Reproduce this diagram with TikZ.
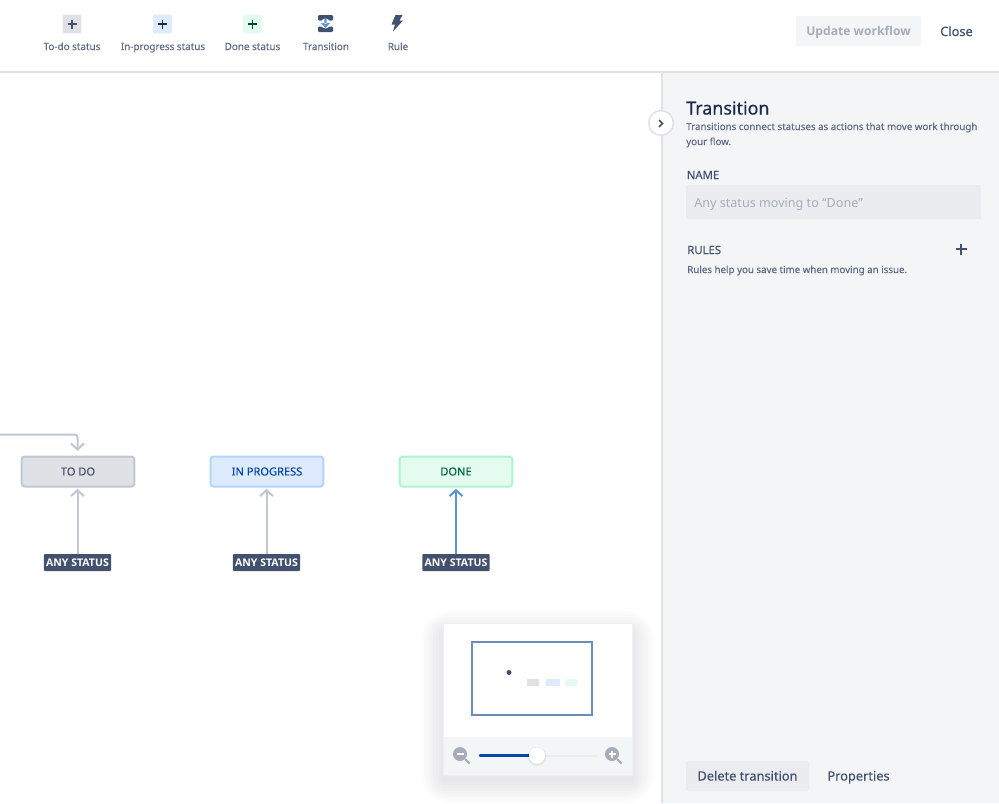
\documentclass[tikz,border=0pt]{standalone}
\usepackage{fontspec}
\setmainfont{Noto Sans}
\newfontfamily\heavyfont{Open Sans}
\usetikzlibrary{arrows.meta,positioning,calc}

\definecolor{inkdark}{HTML}{172B4D}
\definecolor{inkmid}{HTML}{42526E}
\definecolor{inkgrey}{HTML}{5E6C84}
\definecolor{inkfaint}{HTML}{A5ADBA}
\definecolor{edgegrey}{HTML}{C1C7D0}
\definecolor{linegrey}{HTML}{DFE1E6}
\definecolor{panelgrey}{HTML}{F4F5F7}
\definecolor{inputgrey}{HTML}{EBECF0}
\definecolor{todofill}{HTML}{DFE1E6}
\definecolor{progfill}{HTML}{DEEBFF}
\definecolor{progedge}{HTML}{B3D4FF}
\definecolor{donefill}{HTML}{E3FCEF}
\definecolor{doneedge}{HTML}{ABF5D1}
\definecolor{donetext}{HTML}{006644}
\definecolor{progtext}{HTML}{0747A6}
\definecolor{selblue}{HTML}{5B93D9}
\definecolor{mapblue}{HTML}{6C8EB5}
\definecolor{sliderblue}{HTML}{0747A6}

\tikzset{
  statusbox/.style={draw, line width=1.5pt, rounded corners=2.2pt, minimum width=84.5pt, minimum height=22.5pt, inner sep=0,
    font=\fontsize{8.3}{10}\selectfont\addfontfeature{FakeBold=0.3}},
  anylabel/.style={fill=inkmid, rounded corners=0.8pt, text=white, minimum width=50.5pt, minimum height=12.75pt, inner sep=0,
    font=\heavyfont\bfseries\fontsize{7.9}{10}\selectfont},
  flow/.style={draw=edgegrey, line width=1.5pt, -{Straight Barb[length=4.5pt,width=9.75pt,line width=1.5pt]}},
  toollabel/.style={anchor=base, text=inkgrey, font=\fontsize{7.4}{10}\selectfont\addfontfeature{FakeBold=0.15}},
  toolsquare/.style={minimum size=14pt, inner sep=0, rounded corners=0.8pt},
  panelsmall/.style={anchor=base west, inner sep=0, text=inkgrey, font=\fontsize{7.3}{10}\selectfont\addfontfeature{FakeBold=0.15}},
  panelhead/.style={anchor=base west, inner sep=0, text=inkmid, font=\fontsize{8.5}{10}\selectfont\addfontfeature{FakeBold=0.2}},
  button/.style={anchor=base, font=\fontsize{9.6}{12}\selectfont\addfontfeature{FakeBold=0.3}}
}

\begin{document}
\begin{tikzpicture}[x=0.75pt,y=-0.75pt]
\useasboundingbox (0,0) rectangle (999,803);
\fill[white] (0,0) rectangle (999,803);

% Side panel and header rule
\fill[panelgrey] (662,72) rectangle (999,803);
\draw[linegrey, line width=1.5pt] (662,72) -- (662,803);
\draw[linegrey, line width=1.5pt] (0,71.5) -- (999,71.5);

% Toolbar
\node[toolsquare, fill=todofill] (addtodo) at (72,24) {};
\node[toolsquare, fill=progfill] (addprog) at (162.5,24) {};
\node[toolsquare, fill=donefill] (adddone) at (252.5,24) {};
\draw[inkmid, line width=1.4pt] (67.5,24) -- (76.5,24) (72,19.5) -- (72,28.5);
\draw[inkdark, line width=1.4pt] (158,24) -- (167,24) (162.5,19.5) -- (162.5,28.5);
\draw[donetext!70!black, line width=1.4pt] (248,24) -- (257,24) (252.5,19.5) -- (252.5,28.5);
% Transition icon
\fill[inkmid, rounded corners=0.8pt] (318,15) rectangle (333,20.5);
\fill[inkmid, rounded corners=0.8pt] (318,26.5) rectangle (333,32);
\fill[white] (325.5,23.5) circle (5);
\fill[selblue] (324.3,18) rectangle (326.7,24) (321,23) -- (330,23) -- (325.5,28) -- cycle;
% Rule icon
\fill[inkmid] (395.5,15) -- (402.5,15) -- (399.5,20.5) -- (403,20.5) -- (393,31.5) -- (395,24.5) -- (391.5,24.5) -- cycle;

\node[toollabel] (todolabel) at (72,50) {To-do status};
\node[toollabel] (proglabel) at (163,50) {In-progress status};
\node[toollabel] (donelabel) at (252.5,50) {Done status};
\node[toollabel] (translabel) at (326,50) {Transition};
\node[toollabel] (rulelabel) at (398,50) {Rule};

% Header buttons
\fill[panelgrey, rounded corners=1.5pt] (796,16) rectangle (921,46);
\node[button, text=inkfaint, font=\heavyfont\bfseries\fontsize{9.1}{12}\selectfont] (update) at (858.5,36) {Update workflow};
\node[button, text=inkmid] (close) at (956.5,36) {Close};

% Statuses
\node[statusbox, draw=edgegrey, fill=todofill, text=inkmid] (todo) at (78,471.5) {TO DO};
\node[statusbox, draw=progedge, fill=progfill, text=progtext] (inprogress) at (267,471.5) {IN PROGRESS};
\node[statusbox, draw=doneedge, fill=donefill, text=donetext] (done) at (456,471.5) {DONE};

% Any status labels
\node[anylabel] (anytodo) at (77.5,562.5) {ANY STATUS};
\node[anylabel] (anyprog) at (266.5,562.5) {ANY STATUS};
\node[anylabel] (anydone) at (456,562.5) {ANY STATUS};

% Transitions
\draw[flow] (anytodo.north) -- ([yshift=-1pt]anytodo.north |- todo.south);
\draw[flow] (anyprog.north) -- ([yshift=-1pt]anyprog.north |- inprogress.south);
\draw[flow, draw=selblue] (anydone.north) -- ([yshift=-1pt]anydone.north |- done.south);
\coordinate (offleft) at (0,434.5);
\draw[flow, rounded corners=2.2pt] (offleft) -- (anytodo.north |- offleft) -- ([yshift=3.5pt]anytodo.north |- todo.north);

% Collapse button
\node[circle, draw=linegrey, fill=white, line width=1.1pt, minimum size=18.5pt, inner sep=0] (collapse) at (661,123) {};
\draw[inkmid, line width=1.1pt] (659,120) -- (662.5,123.5) -- (659,127);

% Panel text
\node[anchor=base west, text=inkdark, font=\fontsize{13.4}{18}\selectfont\addfontfeature{FakeBold=0.3}, inner sep=0] (title) at (686,114.5) {Transition};
\node[panelsmall] (help1) at (686,130) {Transitions connect statuses as actions that move work through};
\node[panelsmall] (help2) at (686,145) {your flow.};
\node[panelhead] (namehead) at (686.5,179) {NAME};
\fill[inputgrey] (686,185) rectangle (981,219);
\node[anchor=base west, inner sep=0, text=inkfaint, font=\fontsize{9.45}{12}\selectfont] (nameinput) at (694,207) {Any status moving to “Done”};
\node[panelhead] (ruleshead) at (687,254) {RULES};
\draw[inkmid, line width=0.9pt] (955.5,249) -- (966.5,249) (961,243.5) -- (961,254.5);
\node[panelsmall] (ruleshelp) at (687,273) {Rules help you save time when moving an issue.};

% Panel buttons
\fill[inputgrey, rounded corners=1.5pt] (686,761) rectangle (809,791);
\node[button, text=inkmid] (delete) at (747.5,780.5) {Delete transition};
\node[button, text=inkmid] (properties) at (858.5,780.5) {Properties};

% Minimap shadow
\foreach \s in {22,19,16,13,10,7,4,1}
  \fill[inkdark, opacity=0.01, rounded corners=\s pt] (443-\s,623-\s+10) rectangle (632+\s,775+\s+6);

% Minimap
\fill[white] (443,623) rectangle (632,737);
\fill[panelgrey] (443,737) rectangle (632,775);
\draw[black!6, line width=0.4pt] (443,623) rectangle (632,775);
\draw[mapblue, line width=1pt] (472,642) rectangle (592,715);
\fill[inkmid] (509,672.5) circle (2.5);
\fill[todofill] (527,679) rectangle (539,686);
\fill[progfill] (546,679) rectangle (560,686);
\fill[donefill] (565,679) rectangle (577,686);

% Slider
\draw[inputgrey, line width=1.5pt, line cap=round] (530,755.5) -- (596,755.5);
\draw[sliderblue, line width=2.2pt, line cap=round] (480,755.5) -- (532,755.5);
\fill[black, opacity=0.06] (537,756.5) circle (9.5);
\node[circle, fill=white, minimum size=12pt, inner sep=0] (thumb) at (537,755.5) {};

% Zoom icons
\fill[inkfaint] (460,754) circle (7);
\draw[inkfaint, line width=1.5pt] (465,759) -- (469.5,763.5);
\draw[white, line width=1.2pt] (456.5,754) -- (463.5,754);
\fill[inkfaint] (612,754) circle (7);
\draw[inkfaint, line width=1.5pt] (617,759) -- (621.5,763.5);
\draw[white, line width=1.2pt] (608.5,754) -- (615.5,754) (612,750.5) -- (612,757.5);
\end{tikzpicture}
\end{document}
